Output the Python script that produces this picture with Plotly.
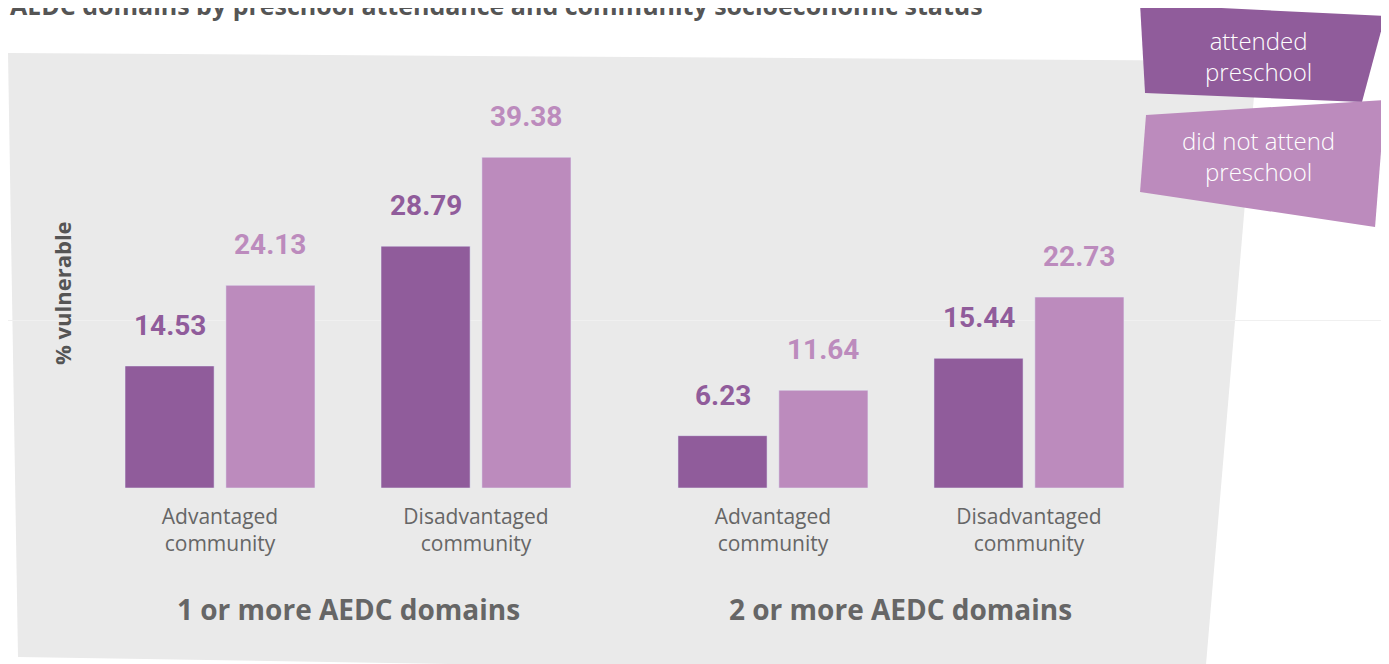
import plotly.graph_objects as go

# chart values
groups = ["1 or more AEDC domains", "2 or more AEDC domains"]
communities = ["Advantaged<br>community", "Disadvantaged<br>community"]
attended = [14.53, 28.79, 6.23, 15.44]
not_attended = [24.13, 39.38, 11.64, 22.73]
series_names = ["attended<br>preschool", "did not attend<br>preschool"]
title = "AEDC domains by preschool attendance and community socioeconomic status"
y_title = "% vulnerable"

DARK = "#905C9B"
LIGHT = "#BC8BBD"
BG = "#EAEAEA"
GREY = "#666666"

W, H = 1389, 664
OFF = 8               # page body margin: figure starts 8px in from the window corner
BASE = 488 - OFF      # bar baseline, figure px
BOTTOM = H - BASE
PLOT_H = BASE
PX_PER_UNIT = 8.4

# category slots: two communities per group, wider gap between groups
GROUP_STEP = 2.16
pos = [g * GROUP_STEP + c for g in range(len(groups)) for c in range(len(communities))]
tick_text = [communities[c] for g in range(len(groups)) for c in range(len(communities))]

BAR_W = 0.348
x_left = -(220 - OFF) / 256
x_right = x_left + W / 256


def px(x):
    return (x - OFF) / W


def py(y):
    return (PLOT_H - (y - OFF)) / PLOT_H


def poly(pts):
    return "M " + " L ".join(f"{px(x):.4f},{py(y):.4f}" for x, y in pts) + " Z"


fig = go.Figure()
fig.add_trace(go.Bar(x=pos, y=attended, name="attended preschool", marker_color=DARK,
                     width=BAR_W, offset=-BAR_W - 0.023, hoverinfo="y"))
fig.add_trace(go.Bar(x=pos, y=not_attended, name="did not attend preschool", marker_color=LIGHT,
                     width=BAR_W, offset=0.023, hoverinfo="y"))

annotations = []
for x, a, b in zip(pos, attended, not_attended):
    for val, shift, col in [(a, -(BAR_W / 2 + 0.023), DARK), (b, BAR_W / 2 + 0.023, LIGHT)]:
        annotations.append(dict(x=x + shift, y=val, xref="x", yref="y", text=f"{val:.2f}",
                                showarrow=False, xanchor="center", yanchor="bottom", yshift=22,
                                font=dict(family="Roboto", size=28, color=col, weight="bold")))

for g, name in enumerate(groups):
    cx = sum(pos[g * 2:g * 2 + 2]) / 2
    annotations.append(dict(x=cx, y=py(609), xref="x", yref="paper", text=name,
                            showarrow=False, xanchor="center", yanchor="middle",
                            font=dict(family="Open Sans", size=28, color=GREY, weight="bold")))

annotations.append(dict(x=px(62), y=py(293), xref="paper", yref="paper",
                        text=y_title, textangle=-90, showarrow=False,
                        xanchor="center", yanchor="middle",
                        font=dict(family="Open Sans", size=22, color="#555555", weight="bold")))

annotations.append(dict(x=px(8), y=py(24), xref="paper", yref="paper",
                        text=title, showarrow=False, xanchor="left", yanchor="bottom",
                        font=dict(family="Open Sans", size=25, color="#555555", weight="bold")))

# legend "tags"
for txt, cy in zip(series_names, [56, 156]):
    annotations.append(dict(x=px(1258), y=py(cy), xref="paper", yref="paper",
                            text=txt, showarrow=False, align="center",
                            xanchor="center", yanchor="middle",
                            font=dict(family="Open Sans", size=24, color="white", weight=300)))

shapes = [
    dict(type="path", xref="paper", yref="paper", layer="below", line_width=0, fillcolor=BG,
         path=poly([(8, 53), (1257, 61), (1205, 676), (18, 657)])),
    dict(type="path", xref="paper", yref="paper", layer="above", line_width=0, fillcolor=DARK,
         path=poly([(1140, 4), (1385, 16), (1362, 102), (1145, 93)])),
    dict(type="path", xref="paper", yref="paper", layer="above", line_width=0, fillcolor=LIGHT,
         path=poly([(1146, 115), (1385, 100), (1375, 227), (1140, 192)])),
]

fig.update_layout(
    width=W, height=H,
    margin=dict(l=0, r=0, t=0, b=BOTTOM, autoexpand=False),
    paper_bgcolor="white", plot_bgcolor="rgba(0,0,0,0)",
    showlegend=False, barmode="overlay",
    xaxis=dict(range=[x_left, x_right], tickvals=pos, ticktext=tick_text, showgrid=False,
               zeroline=False, showline=False, ticks="", ticklabelstandoff=14, automargin=False,
               tickfont=dict(family="Open Sans", size=21, color=GREY)),
    yaxis=dict(range=[0, PLOT_H / PX_PER_UNIT], tickvals=[20], showticklabels=False,
               gridcolor="#F0F0F0", zeroline=False, showline=False, automargin=False),
    shapes=shapes, annotations=annotations,
)

fig.write_html("out.html")
